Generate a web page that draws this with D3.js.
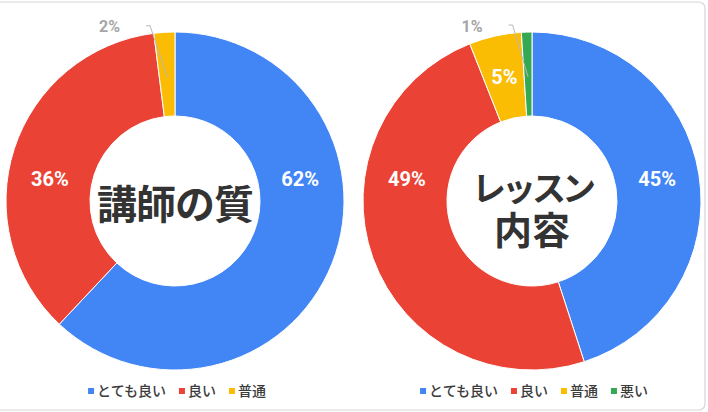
<!DOCTYPE html>
<html>
<head>
<meta charset="utf-8">
<script src="https://cdn.jsdelivr.net/npm/d3@7/dist/d3.min.js"></script>
<style>
  html, body { margin: 0; padding: 0; background: #fff; }
  svg { display: block; }
</style>
</head>
<body>
<svg id="chart" width="708" height="412"></svg>
<script>
// data
const categories = ['とても良い', '良い', '普通', '悪い'];
const sliceColors = ['#4285F4', '#EA4335', '#FBBC04', '#34A853'];

const teacherValues = [62, 36, 2];
const lessonValues = [45, 49, 5, 1];

const teacherTitle = ['講師の質'];
const lessonTitle = ['レッスン', '内容'];

var svg = d3.select('#chart');

// card frame
svg.append('rect')
  .attr('x', -10).attr('y', 2)
  .attr('width', 715).attr('height', 408)
  .attr('rx', 6)
  .attr('fill', '#fff')
  .attr('stroke', '#d6d6d6')
  .attr('stroke-width', 1.2);

var outerR = 169, innerR = 85;
var deg = Math.PI / 180;

/**
 * where the % label of a big slice sits (google keeps them near horizontal)
 */
function labelAngle(d) {
  var mid = (d.startAngle + d.endAngle) / 2;
  if (d.endAngle - d.startAngle < Math.PI / 2) return mid;
  var sides = [80 * deg, 280 * deg].filter(function (a) {
    return a > d.startAngle && a < d.endAngle;
  });
  if (!sides.length) return mid;
  sides.sort(function (a, b) { return Math.abs(a - mid) - Math.abs(b - mid); });
  return sides[0];
}

function drawDonut(cx, cy, values, title, titleStyle) {
  var g = svg.append('g').attr('transform', 'translate(' + cx + ',' + cy + ')');

  var data = values.map(function (v, i) {
    return { name: categories[i], value: v, color: sliceColors[i] };
  });

  var pie = d3.pie().sort(null).value(function (d) { return d.value; });
  var arcs = pie(data);

  var drawArc = d3.arc().innerRadius(innerR).outerRadius(outerR);

  g.selectAll('path.slice')
    .data(arcs)
    .enter()
    .append('path')
    .attr('class', 'slice')
    .attr('d', drawArc)
    .attr('fill', function (d) { return d.data.color; })
    .attr('stroke', '#fff')
    .attr('stroke-width', 1);

  var total = d3.sum(values);
  var midR = (innerR + outerR) / 2;

  arcs.forEach(function (d) {
    var pct = Math.round(d.data.value / total * 100) + '%';
    if (d.data.value / total >= 0.03) {
      var a = labelAngle(d);
      g.append('text')
        .attr('x', Math.sin(a) * midR)
        .attr('y', -Math.cos(a) * midR)
        .attr('dy', '0.35em')
        .attr('text-anchor', 'middle')
        .attr('font-family', 'Roboto, Arial, sans-serif')
        .attr('font-weight', 700)
        .attr('font-size', 20)
        .attr('fill', '#fff')
        .text(pct);
    } else {
      // tiny slice: outside grey label with leader line
      var mid = (d.startAngle + d.endAngle) / 2;
      var r1 = outerR - 45, r2 = outerR + 8;
      var a2 = mid - 4.5 * deg;
      var p1 = [Math.sin(mid) * r1, -Math.cos(mid) * r1];
      var p2 = [Math.sin(a2) * r2, -Math.cos(a2) * r2];
      var p3 = [p2[0] - 4, p2[1]];
      g.append('path')
        .attr('d', d3.line()([p1, p2, p3]))
        .attr('fill', 'none')
        .attr('stroke', '#b8b8b8')
        .attr('stroke-width', 1);
      g.append('text')
        .attr('x', p3[0] - 26)
        .attr('y', p3[1] + 1)
        .attr('dy', '0.35em')
        .attr('text-anchor', 'end')
        .attr('font-family', 'Roboto, Arial, sans-serif')
        .attr('font-weight', 700)
        .attr('font-size', 16)
        .attr('fill', '#a6a6a6')
        .text(pct);
    }
  });

  // centre title, one text element with a tspan per line
  var firstY = -(title.length - 1) * titleStyle.lineH / 2;
  var titleText = g.append('text')
    .attr('text-anchor', 'middle')
    .attr('font-family', '"Noto Sans CJK JP", sans-serif')
    .attr('font-weight', 700)
    .attr('fill', '#333');
  title.forEach(function (t, i) {
    titleText.append('tspan')
      .attr('x', 0)
      .attr('y', firstY + i * titleStyle.lineH + titleStyle.shift)
      .attr('dy', '0.35em')
      .attr('font-size', titleStyle.sizes[i])
      .attr('letter-spacing', titleStyle.spacing[i])
      .text(t);
  });

  // legend
  var legend = svg.append('g');
  var x = 0;
  data.forEach(function (d) {
    var item = legend.append('g').attr('transform', 'translate(' + x + ',0)');
    item.append('rect')
      .attr('x', 0).attr('y', -3)
      .attr('width', 6).attr('height', 6)
      .attr('fill', d.color);
    var txt = item.append('text')
      .attr('x', 9)
      .attr('y', 0)
      .attr('dy', '0.35em')
      .attr('font-family', '"Noto Sans CJK JP", sans-serif')
      .attr('font-weight', 500)
      .attr('font-size', 14)
      .attr('fill', '#3c3c3c')
      .text(d.name);
    x += 9 + txt.node().getComputedTextLength() + 13;
  });
  var w = x - 13;
  legend.attr('transform', 'translate(' + (cx + 2 - w / 2) + ',391)');
}

drawDonut(175, 201, teacherValues, teacherTitle,
  { sizes: [40], spacing: [-1], lineH: 0, shift: 4 });
drawDonut(532, 201, lessonValues, lessonTitle,
  { sizes: [34, 38], spacing: [-4, 0], lineH: 42, shift: 9 });
</script>
</body>
</html>
